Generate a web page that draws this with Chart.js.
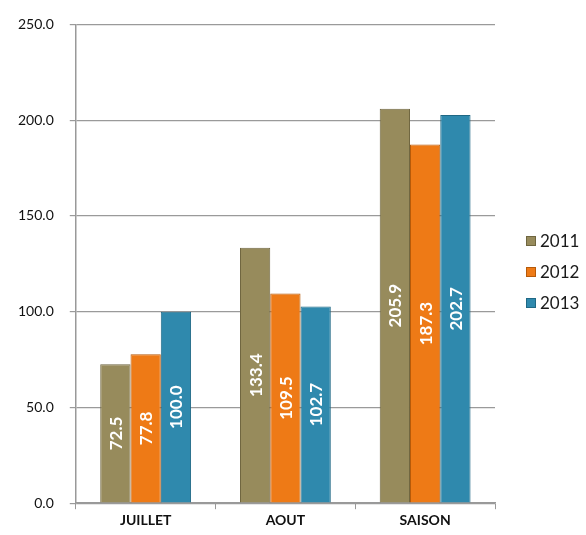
<!DOCTYPE html>
<html lang="fr">
<head>
  <meta charset="UTF-8">
  <title>Comparatif JUILLET / AOUT / SAISON</title>
  <script src="https://cdn.jsdelivr.net/npm/chart.js"></script>
  <style>
    html, body { margin: 0; padding: 0; background: #ffffff; }
    #wrap { width: 586px; height: 535px; position: relative; }
  </style>
</head>
<body>
  <div id="wrap"><canvas id="barChart"></canvas></div>

  <script>
    const categories = ["JUILLET", "AOUT", "SAISON"];
    const years = ["2011", "2012", "2013"];
    const values2011 = [72.5, 133.4, 205.9];
    const values2012 = [77.8, 109.5, 187.3];
    const values2013 = [100.0, 102.7, 202.7];
    const colors = ["#978b5c", "#ee7a16", "#2f89ad"];
    const borders = ["#6f6640", "#b65a0a", "#1f6885"];
    const FONT = "Lato, 'Open Sans', sans-serif";

    // white rotated values inside the bars
    const barLabels = {
      id: "barLabels",
      afterDatasetsDraw(chart) {
        const ctx = chart.ctx;
        chart.data.datasets.forEach((ds, i) => {
          chart.getDatasetMeta(i).data.forEach((bar, j) => {
            const yMid = (bar.y + bar.base) / 2;
            ctx.save();
            ctx.translate(bar.x, yMid);
            ctx.rotate(-Math.PI / 2);
            ctx.font = "bold 17px " + FONT;
            ctx.fillStyle = "#ffffff";
            ctx.textAlign = "center";
            ctx.textBaseline = "middle";
            ctx.fillText(ds.data[j].toFixed(1), 0, 1);
            ctx.restore();
          });
        });
      }
    };

    // legend on the right, drawn from the datasets
    const sideLegend = {
      id: "sideLegend",
      afterDraw(chart) {
        const ctx = chart.ctx;
        const area = chart.chartArea;
        const x = area.right + 31;
        const y0 = 241;
        ctx.save();
        ctx.font = "17px " + FONT;
        ctx.textBaseline = "middle";
        chart.data.datasets.forEach((ds, i) => {
          const y = y0 + i * 31;
          ctx.fillStyle = ds.backgroundColor;
          ctx.fillRect(x, y - 5, 10, 10);
          ctx.strokeStyle = ds.borderColor;
          ctx.lineWidth = 1;
          ctx.strokeRect(x + 0.5, y - 4.5, 9, 9);
          ctx.fillStyle = "#1a1a1a";
          ctx.fillText(ds.label, x + 14, y + 1);
        });
        ctx.restore();
      }
    };

    const datasets = [values2011, values2012, values2013].map((vals, i) => ({
      label: years[i],
      data: vals,
      backgroundColor: colors[i],
      borderColor: borders[i],
      borderWidth: 1,
      categoryPercentage: 0.65,
      barPercentage: 1.0
    }));

    new Chart(document.getElementById("barChart"), {
      type: "bar",
      data: { labels: categories, datasets: datasets },
      plugins: [barLabels, sideLegend],
      options: {
        responsive: true,
        maintainAspectRatio: false,
        animation: false,
        layout: { padding: { top: 24, right: 91, left: 2, bottom: 3 } },
        scales: {
          x: {
            grid: { drawOnChartArea: false, drawTicks: true, tickLength: 6, color: "#999999", offset: true },
            border: { color: "#999999", width: 1.5 },
            ticks: { color: "#111111", font: { family: FONT, size: 14, weight: "bold" }, padding: 3 }
          },
          y: {
            min: 0,
            max: 250,
            ticks: {
              stepSize: 50,
              color: "#111111",
              padding: 16,
              font: { family: FONT, size: 14 },
              callback: v => v.toFixed(1)
            },
            grid: { color: "#9a9a9a", lineWidth: 1.2, tickLength: 6 },
            border: { color: "#999999", width: 1.5 }
          }
        },
        plugins: {
          legend: { display: false },
          tooltip: { enabled: false }
        }
      }
    });
  </script>
</body>
</html>
